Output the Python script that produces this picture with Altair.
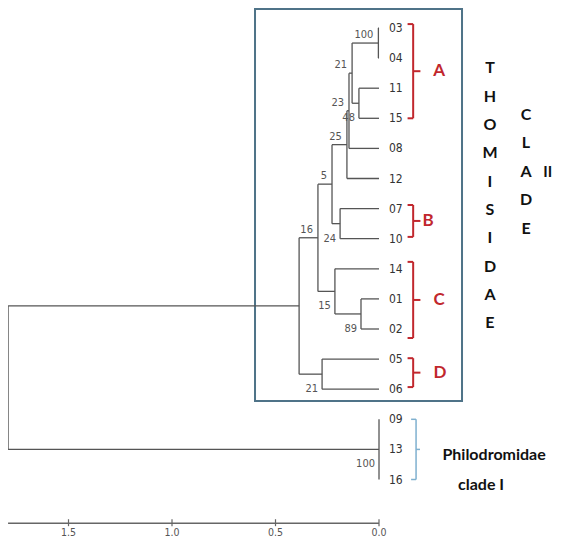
import altair as alt
import pandas as pd

# ---------------- data ----------------
leaves = ["03", "04", "11", "15", "08", "12", "07", "10", "14", "01", "02", "05", "06", "09", "13", "16"]

node_names = ["n1", "n2", "n3", "n4", "n5", "nB", "n6", "n9", "n8", "n7", "nD", "n10", "n11", "root"]
node_children = [["03", "04"], ["11", "15"], ["n1", "n2"], ["n3", "08"], ["n4", "12"], ["07", "10"],
                 ["n5", "nB"], ["01", "02"], ["14", "n9"], ["n6", "n8"], ["05", "06"], ["n7", "nD"],
                 ["09", "13", "16"], ["n10", "n11"]]
node_heights = [0.003, 0.097, 0.130, 0.145, 0.155, 0.188, 0.227, 0.087, 0.213, 0.295, 0.275, 0.386, 0.0, 1.792]

boot_above_nodes = ["n1", "n3", "n4", "n5", "n6", "n7"]
boot_above_text = ["100", "21", "23", "25", "5", "16"]
boot_below_nodes = ["n2", "nB", "n8", "n9", "nD", "n11"]
boot_below_text = ["48", "24", "15", "89", "21", "100"]

axis_ticks = [1.5, 1.0, 0.5, 0.0]
axis_labels = ["1.5", "1.0", "0.5", "0.0"]

groups = ["A", "B", "C", "D"]
group_first = ["03", "07", "14", "05"]
group_last = ["15", "10", "02", "06"]
group_pad_top = [0.13, 0.12, 0.23, 0.03]
group_pad_bottom = [0.0, -0.06, 0.3, -0.07]
group_label_x = [-0.29, -0.237, -0.29, -0.295]

# ---------------- scales ----------------
W, H = 548, 532
X = alt.Scale(domain=[1.7923 - W / 207.0, 1.7923], reverse=True, nice=False, zero=False)
Y = alt.Scale(domain=[-20 / 30.1, (H - 20) / 30.1], reverse=True, nice=False, zero=False)

pos = {l: (0.0, float(i)) for i, l in enumerate(leaves)}
segs = []
for name, ch, h in zip(node_names, node_children, node_heights):
    ys = [pos[c][1] for c in ch]
    pos[name] = (h, (ys[0] + ys[-1]) / 2)
    segs.append(dict(x=h, x2=h, y=ys[0], y2=ys[-1]))
    for c in ch:
        segs.append(dict(x=h, x2=pos[c][0], y=pos[c][1], y2=pos[c][1]))
seg_df = pd.DataFrame(segs)

xq = lambda f="x": alt.X(f"{f}:Q", scale=X, axis=None)
yq = lambda f="y": alt.Y(f"{f}:Q", scale=Y, axis=None)

NARROW = "Liberation Sans Narrow, DejaVu Sans Condensed, Liberation Sans, sans-serif"
BOLD = "Lato, Open Sans, Liberation Sans, sans-serif"

# box around Thomisidae
box_df = pd.DataFrame([dict(x=0.599, x2=-0.401, y=-0.63, y2=12.39)])
box = alt.Chart(box_df).mark_rect(fill=None, stroke="#4f7388", strokeWidth=2).encode(
    x=xq(), x2="x2", y=yq(), y2="y2")

tree = alt.Chart(seg_df).mark_rule(color="#555555", strokeWidth=1.3).encode(
    x=xq(), x2="x2", y=yq(), y2="y2")

leaf_df = pd.DataFrame(dict(label=leaves, x=[0.0] * len(leaves), y=list(range(len(leaves)))))
leaf_text = alt.Chart(leaf_df).mark_text(align="left", baseline="middle", dx=10, fontSize=12,
                                         font=NARROW, color="#333333").encode(
    x=xq(), y=yq(), text="label:N")

ba_df = pd.DataFrame(dict(label=boot_above_text, x=[pos[n][0] for n in boot_above_nodes],
                          y=[pos[n][1] for n in boot_above_nodes]))
boot_above = alt.Chart(ba_df).mark_text(align="right", baseline="alphabetic", dx=-5, dy=-5,
                                        fontSize=11, font=NARROW, color="#555555").encode(
    x=xq(), y=yq(), text="label:N")
bb_df = pd.DataFrame(dict(label=boot_below_text, x=[pos[n][0] for n in boot_below_nodes],
                          y=[pos[n][1] for n in boot_below_nodes]))
boot_below = alt.Chart(bb_df).mark_text(align="right", baseline="top", dx=-4, dy=9,
                                        fontSize=11, font=NARROW, color="#555555").encode(
    x=xq(), y=yq(), text="label:N")

# scale bar axis
AX_Y = 16.45
axis_line = alt.Chart(pd.DataFrame([dict(x=1.792, x2=0.0, y=AX_Y)])).mark_rule(
    color="#666666", strokeWidth=1.5).encode(x=xq(), x2="x2", y=yq())
tick_df = pd.DataFrame(dict(x=axis_ticks, label=axis_labels, y=[AX_Y - 0.13] * 4, y2=[AX_Y + 0.1] * 4,
                            ly=[16.96] * 4))
axis_ticks_m = alt.Chart(tick_df).mark_rule(color="#666666", strokeWidth=1.2).encode(
    x=xq(), y=yq(), y2="y2")
axis_text = alt.Chart(tick_df).mark_text(align="center", baseline="bottom", fontSize=10.5,
                                         font=NARROW, color="#555555").encode(
    x=xq(), y=yq("ly"), text="label:N")

# red group brackets
bx, bhook, bnub = -0.165, -0.138, -0.2
br = []
lab = []
for g, f, l, pt, pb, lx in zip(groups, group_first, group_last, group_pad_top, group_pad_bottom, group_label_x):
    y0 = pos[f][1] - pt
    y1 = pos[l][1] + pb
    ym = (y0 + y1) / 2
    br += [dict(x=bx, x2=bx, y=y0, y2=y1), dict(x=bhook, x2=bx, y=y0, y2=y0),
           dict(x=bhook, x2=bx, y=y1, y2=y1), dict(x=bx, x2=bnub, y=ym, y2=ym)]
    lab.append(dict(label=g, x=lx, y=ym))
brackets = alt.Chart(pd.DataFrame(br)).mark_rule(color="#c1272d", strokeWidth=2).encode(
    x=xq(), x2="x2", y=yq(), y2="y2")
bracket_labels = alt.Chart(pd.DataFrame(lab)).mark_text(align="center", baseline="middle",
                                                        fontSize=17, fontWeight="bold", font=BOLD,
                                                        color="#c1272d").encode(
    x=xq(), y=yq(), text="label:N")

# blue bracket for clade I
cb, ch_, cn = -0.179, -0.155, -0.198
c0, c1 = pos["09"][1], pos["16"][1]
cm = (c0 + c1) / 2
blue = alt.Chart(pd.DataFrame([dict(x=cb, x2=cb, y=c0, y2=c1), dict(x=ch_, x2=cb, y=c0, y2=c0),
                               dict(x=ch_, x2=cb, y=c1, y2=c1), dict(x=cb, x2=cn, y=cm, y2=cm)])).mark_rule(
    color="#7fb0cf", strokeWidth=1.5).encode(x=xq(), x2="x2", y=yq(), y2="y2")

phil_df = pd.DataFrame([dict(label="Philodromidae", x=-0.556, y=14.19),
                        dict(label="clade I", x=-0.493, y=15.18)])
phil = alt.Chart(phil_df).mark_text(align="center", baseline="middle", fontSize=16, fontWeight="bold",
                                    font=BOLD, color="#111111").encode(x=xq(), y=yq(), text="label:N")

# vertical lettering (first line placed at the given y)
thom_df = pd.DataFrame([dict(x=-0.536, y=1.345)])
thom = alt.Chart(thom_df).mark_text(text=list("THOMISIDAE"), lineHeight=28.3, align="center",
                                    baseline="middle", fontSize=16, fontWeight="bold", font=BOLD,
                                    color="#111111").encode(x=xq(), y=yq())
clade_df = pd.DataFrame([dict(x=-0.710, y=2.89)])
clade = alt.Chart(clade_df).mark_text(text=list("CLADE"), lineHeight=28.5, align="center",
                                      baseline="middle", fontSize=16, fontWeight="bold", font=BOLD,
                                      color="#111111").encode(x=xq(), y=yq())
two_df = pd.DataFrame([dict(label="II", x=-0.815, y=4.78)])
two = alt.Chart(two_df).mark_text(align="center", baseline="middle", fontSize=15, fontWeight="bold",
                                  font=BOLD, color="#111111").encode(x=xq(), y=yq(), text="label:N")

chart = alt.layer(box, tree, leaf_text, boot_above, boot_below, axis_line, axis_ticks_m, axis_text,
                  brackets, bracket_labels, blue, phil, thom, clade, two).properties(
    width=W, height=H, padding=0, autosize=alt.AutoSizeParams(type="none"), background="white"
).configure_view(stroke=None)

chart.save("out.html", embed_options={"renderer": "svg", "actions": False})
